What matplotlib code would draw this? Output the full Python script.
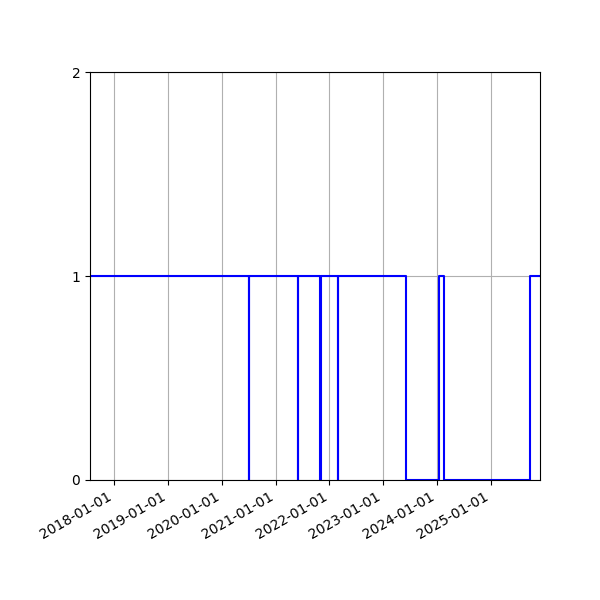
import numpy as np
import pandas as pd
import matplotlib
matplotlib.use("Agg")
import matplotlib.pyplot as plt
import matplotlib.dates as mdates

# state changes (step, value holds until next date)
dates = pd.to_datetime([
    "2017-07-20", "2020-07-01", "2020-07-02", "2021-05-30", "2021-05-31",
    "2021-11-01", "2021-11-02", "2022-02-27", "2022-02-28", "2023-06-08",
    "2024-01-19", "2024-02-20", "2025-09-26", "2025-12-02",
])
values = [1, 0, 1, 0, 1, 0, 1, 0, 1, 0, 1, 0, 1, 1]

fig, ax = plt.subplots(figsize=(6, 6), dpi=100)
ax.step(dates, values, where='post', color='b', linewidth=1.5)

ax.set_xlim(dates[0], dates[-1])
ax.set_ylim(0, 2)
ax.set_yticks([0, 1, 2])
ax.xaxis.set_major_locator(mdates.YearLocator())
ax.xaxis.set_major_formatter(mdates.DateFormatter('%Y-%m-%d'))
ax.grid(True)
fig.autofmt_xdate()
fig.subplots_adjust(left=0.15, right=0.9, top=0.88, bottom=0.2)

plt.savefig('out.png', dpi=100)
